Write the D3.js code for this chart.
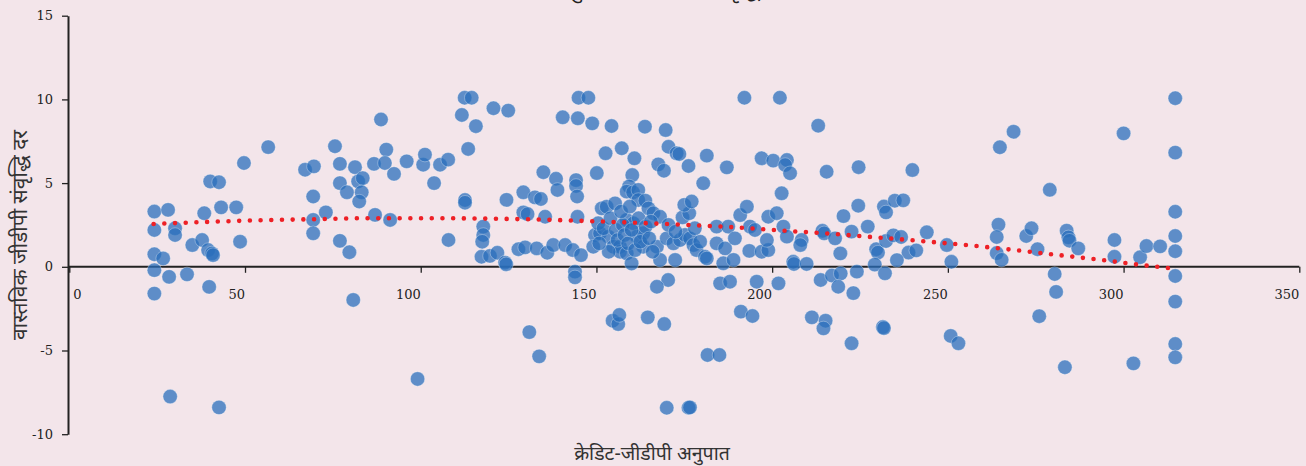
<!DOCTYPE html>
<html>
<head>
<meta charset="utf-8">
<script src="https://cdn.jsdelivr.net/npm/d3@7"></script>
<style>
  html, body { margin: 0; padding: 0; background: #f3e5ea; }
  svg { display: block; }
</style>
</head>
<body>
<svg id="chart" width="1306" height="466"></svg>
<script>
// Credit-to-GDP ratio (x) and real GDP growth rate (y) for each observation
const creditGdp = [
  24.2,24.2,24.2,24.2,24.2,26.7,28.1,30.1,30.1,28.4,28.7,33.5,35,38.4,37.8,39.5,40.6,40.9,40.1,42.6,39.8,43.2,47.5,48.6,42.6,49.7,56.6,
  67.1,69.6,69.4,69.4,69.4,73,75.6,77,79,77,79.7,80.8,81.3,77,82.2,83.5,83.2,82.5,87,86.7,88.7,90.2,89.8,92.4,91.3,96,100.7,101.2,103.8,105.5,107.8,107.9,99.1,
  111.7,112.5,114.5,115.7,113.5,120.7,124.9,112.6,112.6,117.8,117.8,117.5,117.3,119.7,121.8,124,124.3,124.4,127.8,129.7,129.2,129.2,130.4,
  132.5,134.2,134.9,138.5,138.9,135.4,133,136,137.7,141.1,143.3,145.6,143.9,143.9,144.2,144.2,144.5,144.9,147.7,140.4,144.7,148.8,144.6,130.9,133.7,149.6,149.1,
  150.1,152.6,154.3,157.2,160.8,160.2,163.8,167.6,169.2,169.7,159.3,158.6,160.4,161.9,161.9,163.9,151.5,152.9,155.3,151,153.4,154.8,156.7,156.7,158.6,160,158.6,160.5,164.8,166.2,168.1,161.5,163.3,163.3,167.2,168.1,170.4,167.2,154.6,156.2,156.5,164.6,169.3,170,
  150.5,152,153.5,154,155.5,156,157.5,158,159,160,161,162,162.5,164,165,165.5,166,157,159.5,150.8,
  170.5,172.8,173.6,176.2,181.4,180.4,187.1,170,171.9,172.4,173.8,175.2,176.6,177.6,178.5,180.9,181.4,174.5,176.4,175,177.1,184.2,186.6,186.1,189,184.2,187.5,189.4,185.2,188,176.2,176.6,181.6,185,
  170.5,172.5,179.5,178,
  190.9,192.8,193.7,195.1,193.5,197,198.9,198.5,198.9,201.3,202.7,203.2,204.2,206,192.1,202.2,197,200.3,204.2,203.7,205.1,213.1,215.5,208.4,208,206.2,209.8,214.3,214.8,213.8,201.8,195.6,191.1,194.4,211.3,215.2,214.6,
  217,219.5,218.8,223.1,224.1,222.6,217.9,219.4,220.3,224.5,224.6,222.6,227.2,229.6,230.1,229.2,232.1,231.5,231.8,231.8,232.4,234.9,237.3,232.4,234.5,236.7,238.8,241,235.5,239.9,244,
  249.7,251,250.8,253,264.4,263.9,263.9,265.3,264.8,268.7,272.3,273.8,275.5,276,279,280.4,280.8,283.3,283.8,284.3,284.6,287.1,297.4,297.4,300,302.8,304.7,306.5,310.4,
  314.7,314.7,314.7,314.7,314.7,314.7,314.7,314.7,314.7
];
const realGrowth = [
  3.3,2.2,0.75,-0.2,-1.6,0.5,3.4,2.3,1.9,-0.6,-7.75,-0.45,1.3,3.2,1.6,1.0,0.8,0.7,5.1,5.05,-1.2,3.55,3.55,1.5,-8.4,6.2,7.15,
  5.8,6.0,4.2,2.8,2.0,3.25,7.2,5.0,4.45,1.55,0.87,-1.98,5.95,6.15,5.1,5.3,4.45,3.9,3.1,6.15,8.8,7.0,6.2,5.55,2.8,6.3,6.1,6.7,5.0,6.1,6.4,1.6,-6.7,
  9.07,10.1,10.1,8.4,7.04,9.47,9.33,3.99,3.83,2.4,1.9,1.5,0.6,0.65,0.84,0.25,0.15,4.0,1.05,1.16,4.45,3.25,3.15,
  4.15,4.05,5.65,5.26,4.59,2.99,1.1,0.84,1.3,1.3,1.0,0.7,-0.29,-0.63,5.18,4.83,4.2,10.1,10.1,8.93,8.87,8.57,2.99,-3.9,-5.35,1.9,1.2,
  5.6,6.78,8.41,7.08,6.48,5.48,8.37,6.12,5.74,8.17,4.8,4.49,4.45,4.59,3.99,3.95,3.49,3.59,3.79,2.0,1.8,1.2,1.2,0.9,0.8,0.2,2.8,2.6,3.49,3.2,2.99,1.8,2.0,1.2,1.2,0.41,-0.79,-1.19,-3.22,-3.42,-2.88,-3.02,-3.42,-8.42,
  2.6,2.3,0.9,2.9,2.2,1.6,2.5,1.9,1.4,2.2,1.0,2.9,1.5,2.4,1.7,2.7,0.9,3.3,3.6,1.4,
  7.17,6.78,6.74,6.02,6.64,4.99,5.94,1.7,1.4,0.41,1.6,1.9,1.7,1.3,1.0,0.6,0.5,2.95,3.2,3.7,3.9,1.4,1.1,0.21,0.41,2.4,2.4,1.7,-0.99,-0.89,-8.42,-8.4,-5.27,-5.27,
  2.5,2.1,1.5,2.3,
  3.09,3.59,2.4,2.2,0.95,0.9,1.0,1.6,2.99,3.2,4.39,2.4,1.8,0.3,10.1,10.1,6.48,6.34,6.38,6.08,5.59,8.43,5.68,1.6,1.3,0.17,0.17,2.15,2.0,-0.79,-0.99,-0.89,-2.68,-2.94,-3.02,-3.22,-3.68,
  -0.52,-0.4,-1.19,-1.57,-0.29,-4.57,1.7,0.8,3.03,3.65,5.95,2.1,2.4,1.05,0.85,0.13,-0.39,-3.6,-3.66,3.6,3.25,3.95,3.97,1.54,1.88,1.78,0.85,0.98,0.4,5.78,2.06,
  1.3,0.3,-4.13,-4.57,2.52,1.78,0.82,0.42,7.14,8.07,1.84,2.3,1.05,-2.95,4.6,-0.43,-1.5,-6.0,2.16,1.76,1.56,1.1,1.6,0.6,7.97,-5.77,0.57,1.24,1.22,
  10.07,6.82,3.29,1.84,0.93,-0.55,-2.08,-4.61,-5.41
];

// Smoothed trend of growth against the credit ratio
const trendX = [24, 39, 54, 69, 85, 103, 118, 130, 145, 160, 176, 191, 203, 215, 227, 239, 251, 260, 270, 279, 287, 296, 305, 314.5];
const trendY = [2.56, 2.68, 2.78, 2.84, 2.9, 2.9, 2.88, 2.84, 2.75, 2.64, 2.5, 2.34, 2.16, 2.0, 1.8, 1.6, 1.38, 1.2, 0.98, 0.76, 0.57, 0.35, 0.11, -0.11];

const xTicks = [0, 50, 100, 150, 200, 250, 300, 350];
const yTicks = [-10, -5, 0, 5, 10, 15];

const title = "क्रेडिट-जीडीपी अनुपात और जीडीपी संवृद्धि";
const xLabel = "क्रेडिट-जीडीपी अनुपात";
const yLabel = "वास्तविक जीडीपी संवृद्धि दर";

const svg = d3.select("#chart");
const x = d3.scaleLinear().domain([0, 350]).range([69.3, 1299.3]);
const y = d3.scaleLinear().domain([-10, 15]).range([434.2, 15.7]);
const axisX0 = 68;
const numFont = "'DejaVu Serif', serif";
const textFont = "'Noto Sans', 'Noto Sans Devanagari', sans-serif";

// title sits above the top edge; only its lower strokes reach the page
svg.append("text")
  .attr("x", 602).attr("y", -2.5)
  .attr("text-anchor", "middle")
  .attr("font-family", textFont)
  .attr("font-size", 21)
  .attr("fill", "#222")
  .text(title);

// y axis
const gy = svg.append("g")
  .attr("transform", `translate(${axisX0},0)`)
  .call(d3.axisLeft(y).tickValues(yTicks).tickSize(6).tickSizeOuter(0).tickPadding(9).tickFormat(d => String(d)));
gy.select(".domain").attr("stroke", "#222").attr("stroke-width", 2);
gy.selectAll(".tick line").attr("stroke", "#222").attr("stroke-width", 1.3);
gy.selectAll(".tick text").attr("font-family", numFont).attr("font-size", 13).attr("fill", "#222");

// x axis along zero growth
const gx = svg.append("g")
  .attr("transform", `translate(0,${y(0)})`)
  .call(d3.axisBottom(x).tickValues(xTicks).tickSize(6).tickSizeOuter(0).tickFormat(d => String(d)));
gx.select(".domain").attr("d", `M${axisX0},0H${x(350)}`).attr("stroke", "#222").attr("stroke-width", 2);
gx.selectAll(".tick line").attr("stroke", "#222").attr("stroke-width", 1.3);
gx.selectAll(".tick text")
  .attr("font-family", numFont).attr("font-size", 13).attr("fill", "#222")
  .attr("dy", null).attr("y", 32.5)
  .attr("text-anchor", (d, i) => i === 0 ? "start" : "end")
  .attr("x", (d, i) => i === 0 ? 3.4 : -0.5);

// axis titles
svg.append("text")
  .attr("x", 652).attr("y", 460)
  .attr("text-anchor", "middle")
  .attr("font-family", textFont).attr("font-size", 19.5).attr("fill", "#333")
  .text(xLabel);
svg.append("text")
  .attr("transform", "translate(27,235) rotate(-90)")
  .attr("text-anchor", "middle")
  .attr("font-family", textFont).attr("font-size", 21).attr("fill", "#333")
  .text(yLabel);

// scatter points
const pts = creditGdp.map((v, i) => ({ cx: v, cy: realGrowth[i] }));
svg.append("g").selectAll("circle")
  .data(pts).join("circle")
  .attr("cx", d => x(d.cx)).attr("cy", d => y(d.cy))
  .attr("r", 7.2)
  .attr("fill", "#2a6fbb").attr("fill-opacity", 0.74)
  .attr("stroke", "#ffffff").attr("stroke-opacity", 0.45).attr("stroke-width", 0.7);

// dotted trend line
const trend = trendX.map((v, i) => [v, trendY[i]]);
svg.append("path")
  .datum(trend)
  .attr("d", d3.line().x(d => x(d[0])).y(d => y(d[1])).curve(d3.curveMonotoneX))
  .attr("fill", "none")
  .attr("stroke", "#ee2026")
  .attr("stroke-width", 4.6)
  .attr("stroke-linecap", "round")
  .attr("stroke-dasharray", "0 10.7");
</script>
</body>
</html>
